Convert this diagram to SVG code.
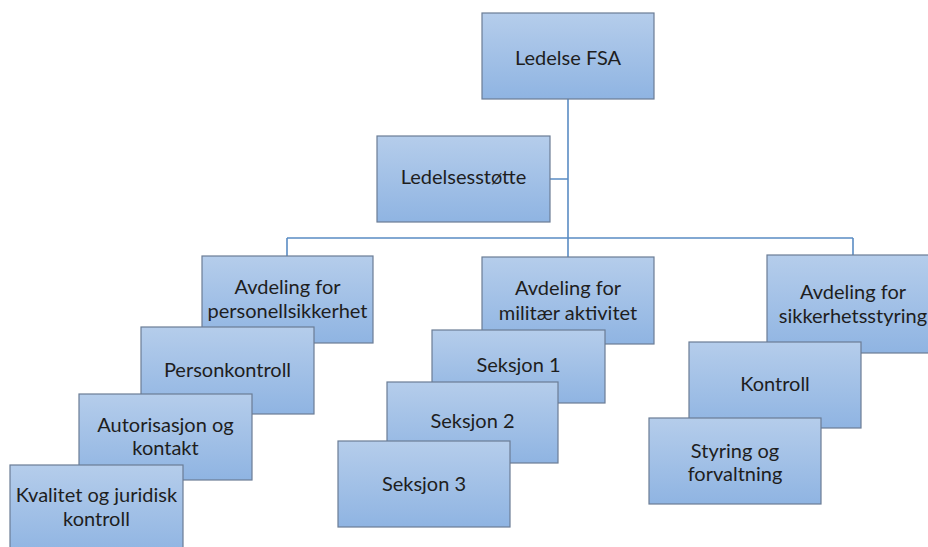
<svg xmlns="http://www.w3.org/2000/svg" width="928" height="547" viewBox="0 0 928 547">
<defs>
<linearGradient id="g" x1="0" y1="0" x2="0" y2="1">
<stop offset="0" stop-color="#b5cdeb"/>
<stop offset="1" stop-color="#8fb4e2"/>
</linearGradient>
</defs>
<style>
.box{fill:url(#g);stroke:#6b7c95;stroke-width:1.2}
.t{font-family:Lato,"Open Sans",sans-serif;font-size:20px;fill:#1e1e1e;text-anchor:middle}
.c{stroke:#5a8cc4;stroke-width:1.6;fill:none}
</style>
<rect width="928" height="547" fill="#ffffff"/>
<g id="connectors">
<path class="c" d="M568 99V257M550 179H568M287 238H853M287 238V256M853 238V255"/>
</g>
<g id="ledelse-fsa"><rect class="box" x="482" y="13" width="172" height="86"/><text class="t" x="568" y="65">Ledelse FSA</text></g>
<g id="ledelsesstotte"><rect class="box" x="377" y="136" width="173" height="86"/><text class="t" x="463.5" y="184">Ledelsesstøtte</text></g>
<g id="avd-personell"><rect class="box" x="202" y="256" width="171" height="87"/><text class="t" x="287.5" y="294">Avdeling for</text><text class="t" x="287.5" y="318">personellsikkerhet</text></g>
<g id="personkontroll"><rect class="box" x="141" y="327" width="173" height="87"/><text class="t" x="227.5" y="377">Personkontroll</text></g>
<g id="autorisasjon"><rect class="box" x="79" y="394" width="173" height="86"/><text class="t" x="165.5" y="432">Autorisasjon og</text><text class="t" x="165.5" y="455">kontakt</text></g>
<g id="kvalitet"><rect class="box" x="10" y="465" width="173" height="90"/><text class="t" x="96.5" y="502">Kvalitet og juridisk</text><text class="t" x="96.5" y="526">kontroll</text></g>
<g id="avd-militaer"><rect class="box" x="482" y="257" width="172" height="87"/><text class="t" x="568" y="295">Avdeling for</text><text class="t" x="568" y="320">militær aktivitet</text></g>
<g id="seksjon1"><rect class="box" x="432" y="330" width="173" height="73"/><text class="t" x="518.5" y="372">Seksjon 1</text></g>
<g id="seksjon2"><rect class="box" x="387" y="382" width="171" height="81"/><text class="t" x="472.5" y="428">Seksjon 2</text></g>
<g id="seksjon3"><rect class="box" x="338" y="441" width="172" height="86"/><text class="t" x="424" y="491">Seksjon 3</text></g>
<g id="avd-sikkerhet"><rect class="box" x="767" y="255" width="172" height="98"/><text class="t" x="853" y="299">Avdeling for</text><text class="t" x="853" y="323">sikkerhetsstyring</text></g>
<g id="kontroll"><rect class="box" x="689" y="342" width="172" height="86"/><text class="t" x="775" y="391">Kontroll</text></g>
<g id="styring"><rect class="box" x="649" y="418" width="172" height="86"/><text class="t" x="735" y="458">Styring og</text><text class="t" x="735" y="481">forvaltning</text></g>
</svg>
